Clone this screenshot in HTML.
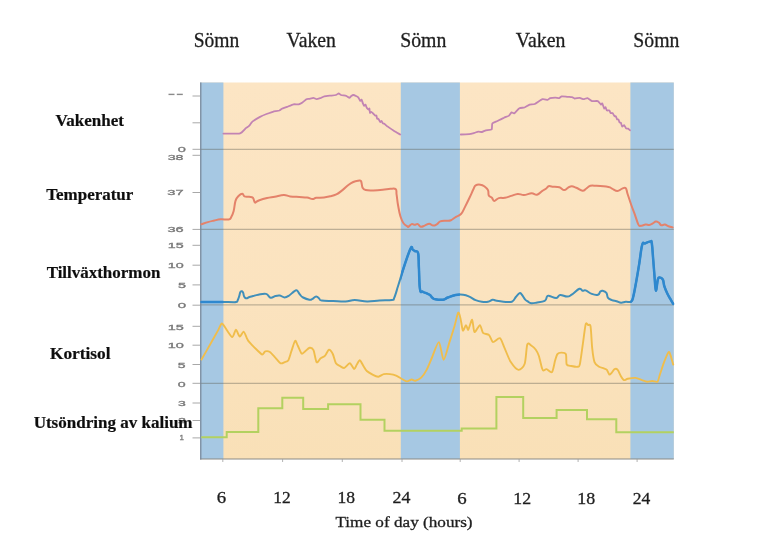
<!DOCTYPE html>
<html><head><meta charset="utf-8"><title>Dygnsrytm</title>
<style>html,body{margin:0;padding:0;background:#fff;}svg{display:block;}</style>
</head><body>
<svg width="777" height="542" viewBox="0 0 777 542">
<defs><linearGradient id="pg" x1="0" y1="0" x2="0" y2="1"><stop offset="0" stop-color="#fce5c4"/><stop offset="0.55" stop-color="#fbe3bf"/><stop offset="1" stop-color="#f9e0b7"/></linearGradient><clipPath id="bands"><rect x="200" y="82" width="23.4" height="378"/><rect x="400.8" y="82" width="59.1" height="378"/><rect x="630.4" y="82" width="44" height="378"/></clipPath><filter id="bl" x="-2%" y="-2%" width="104%" height="104%"><feGaussianBlur stdDeviation="0.35"/></filter></defs>
<rect width="777" height="542" fill="#ffffff"/>
<g filter="url(#bl)">
<rect x="200" y="82.5" width="473.79999999999995" height="376.5" fill="url(#pg)"/>
<rect x="200" y="82.5" width="23.4" height="376.5" fill="#a6c8e3"/>
<rect x="400.8" y="82.5" width="59.1" height="376.5" fill="#a6c8e3"/>
<rect x="630.4" y="82.5" width="43.4" height="376.5" fill="#a6c8e3"/>
<line x1="200" y1="149.3" x2="673.8" y2="149.3" stroke="#5a5a50" stroke-opacity="0.38" stroke-width="1.2"/>
<line x1="200" y1="229.4" x2="673.8" y2="229.4" stroke="#5a5a50" stroke-opacity="0.38" stroke-width="1.2"/>
<line x1="200" y1="304.9" x2="673.8" y2="304.9" stroke="#5a5a50" stroke-opacity="0.38" stroke-width="1.2"/>
<line x1="200" y1="383.3" x2="673.8" y2="383.3" stroke="#5a5a50" stroke-opacity="0.38" stroke-width="1.2"/>
<line x1="200" y1="459" x2="673.8" y2="459" stroke="#8a8a84" stroke-width="1"/>
<line x1="192.5" y1="96.0" x2="200" y2="96.0" stroke="#a8a8a8" stroke-width="1"/>
<line x1="192.5" y1="122.8" x2="200" y2="122.8" stroke="#a8a8a8" stroke-width="1"/>
<line x1="192.5" y1="149.3" x2="200" y2="149.3" stroke="#a8a8a8" stroke-width="1"/>
<line x1="192.5" y1="155.3" x2="200" y2="155.3" stroke="#a8a8a8" stroke-width="1"/>
<line x1="192.5" y1="192.5" x2="200" y2="192.5" stroke="#a8a8a8" stroke-width="1"/>
<line x1="192.5" y1="229.4" x2="200" y2="229.4" stroke="#a8a8a8" stroke-width="1"/>
<line x1="192.5" y1="245.3" x2="200" y2="245.3" stroke="#a8a8a8" stroke-width="1"/>
<line x1="192.5" y1="265.2" x2="200" y2="265.2" stroke="#a8a8a8" stroke-width="1"/>
<line x1="192.5" y1="284.9" x2="200" y2="284.9" stroke="#a8a8a8" stroke-width="1"/>
<line x1="192.5" y1="305.2" x2="200" y2="305.2" stroke="#a8a8a8" stroke-width="1"/>
<line x1="192.5" y1="326.3" x2="200" y2="326.3" stroke="#a8a8a8" stroke-width="1"/>
<line x1="192.5" y1="345.2" x2="200" y2="345.2" stroke="#a8a8a8" stroke-width="1"/>
<line x1="192.5" y1="364.5" x2="200" y2="364.5" stroke="#a8a8a8" stroke-width="1"/>
<line x1="192.5" y1="383.3" x2="200" y2="383.3" stroke="#a8a8a8" stroke-width="1"/>
<line x1="192.5" y1="403.0" x2="200" y2="403.0" stroke="#a8a8a8" stroke-width="1"/>
<line x1="192.5" y1="420.5" x2="200" y2="420.5" stroke="#a8a8a8" stroke-width="1"/>
<line x1="192.5" y1="437.9" x2="200" y2="437.9" stroke="#a8a8a8" stroke-width="1"/>
<line x1="222.8" y1="459" x2="222.8" y2="462" stroke="#a0a0a0" stroke-width="0.8"/>
<line x1="282.6" y1="459" x2="282.6" y2="462" stroke="#a0a0a0" stroke-width="0.8"/>
<line x1="342.3" y1="459" x2="342.3" y2="462" stroke="#a0a0a0" stroke-width="0.8"/>
<line x1="402.0" y1="459" x2="402.0" y2="462" stroke="#a0a0a0" stroke-width="0.8"/>
<line x1="460.2" y1="459" x2="460.2" y2="462" stroke="#a0a0a0" stroke-width="0.8"/>
<line x1="519.1" y1="459" x2="519.1" y2="462" stroke="#a0a0a0" stroke-width="0.8"/>
<line x1="578.1" y1="459" x2="578.1" y2="462" stroke="#a0a0a0" stroke-width="0.8"/>
<line x1="637.1" y1="459" x2="637.1" y2="462" stroke="#a0a0a0" stroke-width="0.8"/>
<line x1="200.8" y1="82.5" x2="200.8" y2="459.5" stroke="#7a8798" stroke-width="1.2"/>
<path d="M223.4,133.6 C224.8,133.6 238.2,133.8 240.1,133.3 C242.0,132.8 245.2,128.7 245.9,128.1 C246.7,127.5 248.6,126.4 249.1,125.9 C249.6,125.4 251.3,122.7 251.7,122.3 C252.1,121.9 252.9,121.2 253.6,120.8 C254.3,120.3 258.9,117.5 260.0,116.9 C261.1,116.3 265.4,114.4 266.5,114.0 C267.6,113.6 271.8,112.1 272.9,111.8 C274.0,111.5 278.6,110.8 279.4,110.5 C280.1,110.2 281.3,109.1 281.9,108.8 C282.5,108.5 286.1,107.3 287.1,106.9 C288.1,106.5 292.5,104.5 293.5,104.3 C294.5,104.1 297.9,104.5 298.7,104.3 C299.4,104.1 301.9,102.8 302.5,102.4 C303.1,102.0 305.9,99.5 306.4,99.2 C306.9,98.9 308.3,99.0 308.9,98.9 C309.5,98.8 312.8,97.9 313.4,97.9 C314.0,97.9 316.0,99.2 316.6,99.2 C317.2,99.2 319.8,98.3 320.4,98.1 C321.0,97.9 323.4,96.5 324.3,96.3 C325.2,96.1 329.7,95.7 330.7,95.6 C331.7,95.5 335.2,95.2 335.9,95.0 C336.6,94.8 338.3,93.4 338.7,93.4 C339.1,93.4 340.4,94.8 341.0,95.0 C341.6,95.2 345.5,95.7 346.2,95.9 C346.9,96.1 349.0,97.9 349.4,97.9 C349.8,97.9 351.0,96.1 351.3,95.9 C351.6,95.7 352.9,95.0 353.3,95.0 C353.7,95.0 356.1,96.1 356.5,96.3 C356.9,96.5 358.1,97.2 358.4,97.6 C358.7,98.0 360.0,100.7 360.3,100.9 C360.6,101.1 361.4,99.4 361.6,99.6 C361.8,99.8 362.7,102.9 362.9,103.4 C363.1,103.9 364.0,105.8 364.2,105.9 C364.4,106.0 365.3,104.4 365.5,104.6 C365.7,104.8 366.5,107.5 366.8,107.9 C367.1,108.3 368.5,109.7 368.7,109.7 C368.9,109.8 369.3,108.2 369.4,108.5 C369.5,108.8 369.8,112.6 370.0,112.9 C370.2,113.2 371.0,111.8 371.3,111.8 C371.6,111.8 372.9,113.2 373.2,113.5 C373.5,113.8 374.8,115.3 375.1,115.5 C375.4,115.7 376.2,115.3 376.4,115.6 C376.6,115.9 376.9,118.5 377.1,118.8 C377.3,119.1 378.1,118.5 378.4,118.8 C378.7,119.1 380.0,121.8 380.3,122.0 C380.6,122.2 381.4,120.9 381.6,121.0 C381.8,121.1 382.6,123.0 382.9,123.3 C383.2,123.6 384.4,123.8 384.8,124.1 C385.2,124.4 386.6,125.9 387.4,126.4 C388.1,127.0 392.7,130.0 393.8,130.7 C394.9,131.4 399.7,134.2 400.2,134.5" fill="none" stroke-linejoin="round" stroke-linecap="round" stroke="#c283b3" stroke-width="1.8"/>
<path d="M460.8,134.5 C461.5,134.5 468.1,134.3 469.2,134.2 C470.3,134.1 473.6,133.1 474.3,132.9 C475.1,132.7 477.6,131.7 478.2,131.6 C478.8,131.5 481.4,132.1 482.0,132.0 C482.6,131.9 485.1,130.5 485.9,130.3 C486.7,130.1 491.2,130.0 491.7,129.4 C492.2,128.8 491.8,124.1 492.3,123.4 C492.8,122.7 496.5,121.5 497.5,121.0 C498.5,120.5 502.9,118.2 503.9,117.8 C504.9,117.3 508.5,116.1 509.1,115.6 C509.7,115.1 511.2,112.5 511.6,112.3 C512.0,112.1 513.6,113.6 514.2,113.3 C514.9,113.0 518.5,108.7 519.4,108.2 C520.3,107.7 523.6,107.8 524.5,107.5 C525.4,107.2 528.7,104.9 529.6,104.6 C530.5,104.3 533.7,104.5 534.8,104.0 C535.9,103.5 541.4,99.5 542.5,99.2 C543.6,98.9 547.1,99.9 547.7,99.8 C548.3,99.7 549.6,98.3 550.2,98.1 C550.8,97.9 554.5,97.6 555.3,97.6 C556.0,97.6 558.7,98.2 559.2,98.1 C559.7,98.0 561.1,96.4 561.7,96.3 C562.3,96.2 566.0,96.7 566.9,96.8 C567.8,96.9 571.4,97.1 572.0,97.2 C572.6,97.3 574.0,98.4 574.6,98.5 C575.2,98.6 579.0,97.8 579.7,97.9 C580.5,98.0 583.0,99.2 583.6,99.2 C584.2,99.2 586.8,97.9 587.5,98.1 C588.2,98.3 591.1,100.8 592.0,101.1 C592.9,101.3 597.0,100.8 597.8,101.1 C598.5,101.4 600.6,104.4 601.0,104.6 C601.4,104.8 602.0,103.1 602.3,103.4 C602.6,103.7 603.9,108.2 604.2,108.5 C604.5,108.8 605.3,107.0 605.5,107.2 C605.7,107.4 606.5,110.1 606.8,110.4 C607.1,110.7 609.1,110.3 609.4,110.5 C609.7,110.7 610.3,112.8 610.6,113.0 C610.9,113.2 612.3,112.8 612.6,113.1 C612.9,113.4 614.2,115.9 614.5,116.2 C614.8,116.5 615.6,115.9 615.8,116.2 C616.0,116.5 616.9,119.1 617.1,119.4 C617.3,119.7 618.2,119.1 618.4,119.4 C618.6,119.7 619.4,122.3 619.6,122.6 C619.8,122.9 620.7,122.4 620.9,122.7 C621.1,123.0 621.9,126.3 622.2,126.5 C622.5,126.7 623.9,125.0 624.2,125.2 C624.5,125.4 625.8,128.1 626.1,128.4 C626.4,128.7 627.7,128.4 628.0,128.6 C628.3,128.8 629.8,130.2 630.0,130.3" fill="none" stroke-linejoin="round" stroke-linecap="round" stroke="#c283b3" stroke-width="1.8"/>
<path d="M201.4,224.3 C202.7,223.9 205.3,222.9 207.9,222.1 C210.5,221.3 211.7,221.1 214.3,220.5 C216.9,219.9 217.9,219.5 220.7,219.3 C223.5,219.1 226.4,219.8 228.5,219.5 C230.6,219.2 230.0,219.3 231.0,217.6 C232.0,215.9 232.7,214.5 233.6,211.2 C234.5,207.9 234.5,204.0 235.5,200.9 C236.5,197.8 237.4,197.1 238.8,195.7 C240.2,194.3 241.3,193.7 242.4,193.8 C243.5,193.9 243.2,195.8 244.5,196.4 C245.8,197.0 247.4,196.5 249.1,196.8 C250.8,197.1 251.8,196.6 252.9,197.7 C254.0,198.8 254.0,201.6 254.8,202.4 C255.6,203.2 255.9,201.9 256.8,201.5 C257.7,201.1 257.3,200.9 259.4,200.2 C261.5,199.5 264.0,198.8 267.1,198.1 C270.2,197.4 271.5,197.4 274.8,196.8 C278.1,196.2 280.7,195.2 283.8,195.1 C286.9,195.0 287.1,196.0 290.2,196.4 C293.3,196.8 295.9,196.8 299.3,197.0 C302.7,197.2 304.4,197.1 307.0,197.5 C309.6,197.9 310.5,198.9 312.4,199.0 C314.3,199.1 314.0,198.1 316.3,197.8 C318.6,197.5 321.2,197.8 324.0,197.5 C326.8,197.2 327.7,196.9 330.2,196.3 C332.7,195.7 333.8,195.6 336.3,194.4 C338.8,193.2 340.0,192.0 342.5,190.1 C345.0,188.2 346.5,186.3 348.7,184.7 C350.9,183.1 351.4,182.8 353.3,182.0 C355.2,181.2 356.5,181.0 358.0,180.8 C359.5,180.6 360.1,179.7 361.0,181.1 C361.9,182.5 361.7,186.0 362.6,187.8 C363.5,189.6 363.5,189.6 365.7,190.1 C367.9,190.6 370.0,190.5 373.4,190.4 C376.8,190.3 379.3,190.1 382.7,189.8 C386.1,189.5 387.8,188.9 390.4,188.8 C393.0,188.7 394.6,188.1 395.8,189.3 C397.0,190.5 396.1,191.5 396.6,194.7 C397.1,197.9 397.3,201.2 398.1,205.5 C398.9,209.8 399.3,212.7 400.4,216.3 C401.5,219.9 402.1,221.3 403.5,223.3 C404.9,225.3 406.4,225.7 407.4,226.4 C408.4,227.1 407.7,227.3 408.5,226.8 C409.3,226.3 410.4,224.5 411.6,224.1 C412.8,223.7 413.5,224.8 414.7,224.8 C415.9,224.8 416.6,223.7 417.8,224.1 C419.0,224.5 419.4,226.5 420.8,226.8 C422.2,227.1 423.0,226.2 424.7,225.6 C426.4,225.0 427.6,223.7 429.3,223.7 C431.0,223.7 431.6,225.5 433.2,225.6 C434.8,225.7 435.7,224.9 437.1,224.1 C438.5,223.3 438.4,222.1 440.2,221.4 C442.0,220.7 444.1,220.9 446.3,220.7 C448.5,220.5 449.1,220.9 451.0,220.2 C452.9,219.5 453.6,218.3 455.6,217.1 C457.6,215.9 459.1,216.0 461.0,214.0 C462.9,212.0 463.2,210.3 464.9,207.1 C466.6,203.9 467.8,201.4 469.5,197.8 C471.2,194.2 472.2,191.8 473.4,189.3 C474.6,186.8 474.3,186.3 475.7,185.4 C477.1,184.5 478.6,184.5 480.3,184.7 C482.0,184.9 482.7,185.1 484.2,186.2 C485.7,187.3 487.1,188.2 488.0,190.1 C488.9,192.0 488.0,194.0 488.8,195.5 C489.6,197.0 490.8,196.7 491.9,197.8 C493.0,198.9 492.8,200.8 494.2,200.9 C495.6,201.0 496.6,198.7 498.8,198.1 C501.0,197.5 502.5,198.2 505.0,197.8 C507.5,197.4 508.7,196.7 511.2,195.9 C513.7,195.1 515.2,194.1 517.7,193.9 C520.2,193.7 521.1,195.1 523.9,195.0 C526.7,194.9 529.0,193.3 531.6,193.2 C534.2,193.1 534.8,195.2 537.0,194.7 C539.2,194.2 540.5,192.0 542.4,190.8 C544.3,189.6 545.1,189.4 546.3,188.5 C547.5,187.6 547.4,186.6 548.6,186.2 C549.8,185.8 550.3,186.5 552.5,186.7 C554.7,186.9 557.1,186.6 559.4,187.3 C561.7,188.0 562.4,190.0 564.1,190.1 C565.8,190.2 566.4,188.6 567.9,187.8 C569.4,187.0 570.1,186.2 571.8,186.2 C573.5,186.2 574.2,186.9 576.4,187.8 C578.6,188.7 580.6,190.7 582.6,190.8 C584.6,190.9 584.9,189.5 586.4,188.5 C587.9,187.5 588.3,186.3 590.3,185.8 C592.3,185.3 592.9,185.6 596.5,185.8 C600.1,186.0 605.3,186.4 608.4,187.0 C611.5,187.6 610.2,187.8 612.0,188.6 C613.8,189.4 615.4,191.0 617.4,191.0 C619.4,191.0 620.5,189.2 622.2,188.6 C623.9,188.0 624.7,187.1 625.8,188.2 C626.9,189.3 626.5,190.7 627.6,194.0 C628.7,197.3 629.8,200.7 631.2,204.8 C632.6,208.9 633.4,210.4 634.8,214.4 C636.2,218.4 637.2,222.3 638.4,224.6 C639.6,226.9 639.4,225.8 640.8,225.8 C642.2,225.8 643.9,224.8 645.6,224.6 C647.3,224.4 647.8,225.2 649.2,225.0 C650.6,224.8 651.5,224.1 652.8,223.4 C654.1,222.7 654.6,221.8 655.8,221.6 C657.0,221.4 657.7,221.9 658.8,222.6 C659.9,223.3 660.0,224.8 661.2,225.2 C662.4,225.6 663.4,224.4 664.8,224.6 C666.2,224.8 666.8,225.6 668.4,226.2 C670.0,226.8 671.8,227.2 672.6,227.4" fill="none" stroke-linejoin="round" stroke-linecap="round" stroke="#e4826a" stroke-width="2.0"/>
<path d="M201.5,302.1 C206.8,302.1 221.1,302.1 228.0,302.1 C234.9,302.1 234.2,302.5 236.1,302.1 C238.0,301.7 237.1,301.4 237.7,300.2 C238.3,299.0 238.7,297.8 239.2,296.2 C239.7,294.6 239.8,293.1 240.4,292.1 C241.0,291.1 241.4,291.1 242.0,291.3 C242.6,291.5 242.8,291.9 243.2,292.9 C243.6,293.9 243.6,295.2 244.0,296.2 C244.4,297.2 244.5,297.4 245.1,297.8 C245.7,298.2 246.2,298.4 247.1,298.2 C248.0,298.0 248.3,297.4 249.5,297.0 C250.7,296.6 251.4,296.5 253.2,296.0 C255.0,295.5 255.7,295.1 258.3,294.7 C260.9,294.3 263.5,293.3 266.0,293.9 C268.5,294.5 268.8,297.4 270.7,297.8 C272.6,298.2 273.5,296.5 275.3,296.0 C277.1,295.5 278.0,295.2 279.9,295.5 C281.8,295.8 282.7,297.5 284.6,297.5 C286.5,297.5 287.4,296.7 289.2,295.5 C291.0,294.3 292.3,292.6 293.8,291.6 C295.3,290.6 295.7,289.8 296.9,290.4 C298.1,291.0 298.8,293.3 300.0,294.7 C301.2,296.1 301.2,296.5 303.1,297.5 C305.0,298.5 307.5,299.4 309.3,299.7 C311.1,300.0 310.6,299.9 312.0,299.2 C313.4,298.5 314.7,296.5 316.2,296.4 C317.7,296.3 318.2,297.9 319.3,298.7 C320.4,299.5 318.8,300.0 321.6,300.5 C324.4,301.0 328.4,300.8 333.2,301.0 C338.0,301.2 341.2,301.7 345.5,301.5 C349.8,301.3 350.5,299.9 354.8,299.9 C359.1,299.9 362.2,301.4 367.1,301.5 C372.0,301.6 374.5,300.8 379.5,300.5 C384.5,300.2 389.0,300.4 391.9,299.9 C394.8,299.4 393.0,300.6 394.2,297.9 C395.4,295.2 396.3,291.7 398.0,286.3 C399.7,280.9 400.8,276.8 402.7,270.9 C404.6,265.0 405.6,261.7 407.3,257.0 C409.0,252.3 410.1,248.9 411.2,247.4 C412.3,245.9 411.9,248.9 412.7,249.6 C413.5,250.3 413.9,250.4 415.0,251.1 C416.1,251.8 417.3,249.8 418.1,253.1 C418.9,256.4 418.5,260.5 418.9,267.8 C419.3,275.1 419.2,284.6 420.0,289.4 C420.8,294.2 421.5,290.9 422.7,291.7 C423.9,292.5 424.7,292.5 426.2,293.2 C427.7,293.9 428.8,294.1 430.0,295.0 C431.2,295.9 431.3,296.9 432.4,297.8 C433.5,298.7 433.2,298.9 435.4,299.3 C437.6,299.7 440.7,300.1 443.2,299.7 C445.7,299.3 445.3,298.4 447.8,297.5 C450.3,296.6 452.4,295.6 455.5,295.0 C458.6,294.4 460.4,294.4 463.2,294.7 C466.0,295.0 466.9,295.5 469.4,296.6 C471.9,297.7 473.1,299.1 475.6,300.1 C478.1,301.1 479.3,301.4 481.8,301.7 C484.3,302.0 485.8,302.1 488.0,301.7 C490.2,301.3 491.1,299.9 492.6,299.7 C494.1,299.5 493.5,300.2 495.7,300.6 C497.9,301.0 500.2,301.5 503.4,301.7 C506.6,301.9 509.4,302.6 511.9,301.7 C514.4,300.8 514.3,298.7 515.8,297.0 C517.3,295.3 518.4,293.7 519.6,293.2 C520.8,292.7 520.8,293.5 521.9,294.7 C523.0,295.9 523.8,297.9 525.0,299.3 C526.2,300.7 526.9,300.9 528.1,301.7 C529.3,302.5 529.6,303.0 531.2,303.2 C532.8,303.4 533.5,303.2 536.2,302.7 C538.9,302.2 542.5,302.1 544.7,300.9 C546.9,299.7 546.1,297.6 547.0,296.6 C547.9,295.6 547.4,295.6 549.3,295.9 C551.2,296.2 554.1,298.3 556.3,298.1 C558.5,297.9 557.9,295.3 560.1,295.0 C562.3,294.7 564.8,296.7 567.1,296.6 C569.4,296.5 569.2,296.3 571.7,294.7 C574.2,293.1 577.2,289.6 579.4,288.8 C581.6,288.0 581.3,290.5 582.5,290.8 C583.7,291.1 583.7,289.8 585.6,290.4 C587.5,291.0 589.3,293.0 591.8,293.9 C594.3,294.8 596.3,295.2 598.0,294.7 C599.7,294.2 599.4,292.4 600.3,291.6 C601.2,290.8 601.4,290.5 602.6,290.8 C603.8,291.1 605.3,291.5 606.4,292.9 C607.5,294.3 606.9,296.4 608.0,297.8 C609.1,299.2 610.2,299.4 611.9,300.1 C613.6,300.8 614.7,300.7 616.5,301.2 C618.3,301.7 619.2,302.6 621.1,302.7 C623.0,302.8 623.8,302.0 625.8,301.8 C627.8,301.6 629.6,302.7 631.1,301.6 C632.6,300.5 632.3,300.5 633.3,296.5 C634.3,292.5 635.0,288.2 636.2,281.7 C637.4,275.2 638.0,271.4 639.2,264.0 C640.4,256.6 641.0,248.9 642.2,244.8 C643.4,240.7 643.5,244.0 645.1,243.3 C646.7,242.6 649.0,241.5 650.3,241.5 C651.6,241.5 651.2,239.7 651.8,243.3 C652.4,246.9 652.6,252.4 653.2,259.5 C653.8,266.6 654.2,272.5 654.7,278.7 C655.2,284.9 655.3,290.3 655.9,290.6 C656.5,290.9 657.1,282.8 657.7,280.2 C658.3,277.6 658.1,277.7 659.1,277.6 C660.1,277.5 661.8,277.8 662.8,279.5 C663.8,281.2 663.4,283.3 664.3,286.1 C665.2,288.9 666.1,291.0 667.3,293.5 C668.5,296.0 669.0,296.6 670.2,298.7 C671.4,300.8 672.6,302.9 673.2,303.9" fill="none" stroke-linejoin="round" stroke-linecap="round" stroke="#3f8fba" stroke-width="2.0"/>
<path d="M201.5,302.1 C206.8,302.1 221.1,302.1 228.0,302.1 C234.9,302.1 234.2,302.5 236.1,302.1 C238.0,301.7 237.1,301.4 237.7,300.2 C238.3,299.0 238.7,297.8 239.2,296.2 C239.7,294.6 239.8,293.1 240.4,292.1 C241.0,291.1 241.4,291.1 242.0,291.3 C242.6,291.5 242.8,291.9 243.2,292.9 C243.6,293.9 243.6,295.2 244.0,296.2 C244.4,297.2 244.5,297.4 245.1,297.8 C245.7,298.2 246.2,298.4 247.1,298.2 C248.0,298.0 248.3,297.4 249.5,297.0 C250.7,296.6 251.4,296.5 253.2,296.0 C255.0,295.5 255.7,295.1 258.3,294.7 C260.9,294.3 263.5,293.3 266.0,293.9 C268.5,294.5 268.8,297.4 270.7,297.8 C272.6,298.2 273.5,296.5 275.3,296.0 C277.1,295.5 278.0,295.2 279.9,295.5 C281.8,295.8 282.7,297.5 284.6,297.5 C286.5,297.5 287.4,296.7 289.2,295.5 C291.0,294.3 292.3,292.6 293.8,291.6 C295.3,290.6 295.7,289.8 296.9,290.4 C298.1,291.0 298.8,293.3 300.0,294.7 C301.2,296.1 301.2,296.5 303.1,297.5 C305.0,298.5 307.5,299.4 309.3,299.7 C311.1,300.0 310.6,299.9 312.0,299.2 C313.4,298.5 314.7,296.5 316.2,296.4 C317.7,296.3 318.2,297.9 319.3,298.7 C320.4,299.5 318.8,300.0 321.6,300.5 C324.4,301.0 328.4,300.8 333.2,301.0 C338.0,301.2 341.2,301.7 345.5,301.5 C349.8,301.3 350.5,299.9 354.8,299.9 C359.1,299.9 362.2,301.4 367.1,301.5 C372.0,301.6 374.5,300.8 379.5,300.5 C384.5,300.2 389.0,300.4 391.9,299.9 C394.8,299.4 393.0,300.6 394.2,297.9 C395.4,295.2 396.3,291.7 398.0,286.3 C399.7,280.9 400.8,276.8 402.7,270.9 C404.6,265.0 405.6,261.7 407.3,257.0 C409.0,252.3 410.1,248.9 411.2,247.4 C412.3,245.9 411.9,248.9 412.7,249.6 C413.5,250.3 413.9,250.4 415.0,251.1 C416.1,251.8 417.3,249.8 418.1,253.1 C418.9,256.4 418.5,260.5 418.9,267.8 C419.3,275.1 419.2,284.6 420.0,289.4 C420.8,294.2 421.5,290.9 422.7,291.7 C423.9,292.5 424.7,292.5 426.2,293.2 C427.7,293.9 428.8,294.1 430.0,295.0 C431.2,295.9 431.3,296.9 432.4,297.8 C433.5,298.7 433.2,298.9 435.4,299.3 C437.6,299.7 440.7,300.1 443.2,299.7 C445.7,299.3 445.3,298.4 447.8,297.5 C450.3,296.6 452.4,295.6 455.5,295.0 C458.6,294.4 460.4,294.4 463.2,294.7 C466.0,295.0 466.9,295.5 469.4,296.6 C471.9,297.7 473.1,299.1 475.6,300.1 C478.1,301.1 479.3,301.4 481.8,301.7 C484.3,302.0 485.8,302.1 488.0,301.7 C490.2,301.3 491.1,299.9 492.6,299.7 C494.1,299.5 493.5,300.2 495.7,300.6 C497.9,301.0 500.2,301.5 503.4,301.7 C506.6,301.9 509.4,302.6 511.9,301.7 C514.4,300.8 514.3,298.7 515.8,297.0 C517.3,295.3 518.4,293.7 519.6,293.2 C520.8,292.7 520.8,293.5 521.9,294.7 C523.0,295.9 523.8,297.9 525.0,299.3 C526.2,300.7 526.9,300.9 528.1,301.7 C529.3,302.5 529.6,303.0 531.2,303.2 C532.8,303.4 533.5,303.2 536.2,302.7 C538.9,302.2 542.5,302.1 544.7,300.9 C546.9,299.7 546.1,297.6 547.0,296.6 C547.9,295.6 547.4,295.6 549.3,295.9 C551.2,296.2 554.1,298.3 556.3,298.1 C558.5,297.9 557.9,295.3 560.1,295.0 C562.3,294.7 564.8,296.7 567.1,296.6 C569.4,296.5 569.2,296.3 571.7,294.7 C574.2,293.1 577.2,289.6 579.4,288.8 C581.6,288.0 581.3,290.5 582.5,290.8 C583.7,291.1 583.7,289.8 585.6,290.4 C587.5,291.0 589.3,293.0 591.8,293.9 C594.3,294.8 596.3,295.2 598.0,294.7 C599.7,294.2 599.4,292.4 600.3,291.6 C601.2,290.8 601.4,290.5 602.6,290.8 C603.8,291.1 605.3,291.5 606.4,292.9 C607.5,294.3 606.9,296.4 608.0,297.8 C609.1,299.2 610.2,299.4 611.9,300.1 C613.6,300.8 614.7,300.7 616.5,301.2 C618.3,301.7 619.2,302.6 621.1,302.7 C623.0,302.8 623.8,302.0 625.8,301.8 C627.8,301.6 629.6,302.7 631.1,301.6 C632.6,300.5 632.3,300.5 633.3,296.5 C634.3,292.5 635.0,288.2 636.2,281.7 C637.4,275.2 638.0,271.4 639.2,264.0 C640.4,256.6 641.0,248.9 642.2,244.8 C643.4,240.7 643.5,244.0 645.1,243.3 C646.7,242.6 649.0,241.5 650.3,241.5 C651.6,241.5 651.2,239.7 651.8,243.3 C652.4,246.9 652.6,252.4 653.2,259.5 C653.8,266.6 654.2,272.5 654.7,278.7 C655.2,284.9 655.3,290.3 655.9,290.6 C656.5,290.9 657.1,282.8 657.7,280.2 C658.3,277.6 658.1,277.7 659.1,277.6 C660.1,277.5 661.8,277.8 662.8,279.5 C663.8,281.2 663.4,283.3 664.3,286.1 C665.2,288.9 666.1,291.0 667.3,293.5 C668.5,296.0 669.0,296.6 670.2,298.7 C671.4,300.8 672.6,302.9 673.2,303.9" fill="none" stroke-linejoin="round" stroke-linecap="round" stroke="#2f88cf" stroke-width="2.5" clip-path="url(#bands)"/>
<path d="M201.5,359.5 C202.7,357.4 208.2,347.9 210.4,344.0 C212.6,340.1 216.7,332.8 218.2,330.1 C219.7,327.4 220.8,324.1 221.6,323.6 C222.4,323.1 222.9,324.4 224.3,326.2 C225.7,328.0 230.6,336.5 232.1,337.0 C233.6,337.5 234.9,329.9 235.9,329.8 C236.9,329.7 238.8,336.4 239.8,336.6 C240.8,336.8 242.7,331.4 243.6,331.6 C244.5,331.8 246.1,336.6 246.7,337.8 C247.3,339.0 247.6,339.9 248.3,340.9 C249.0,341.9 251.0,344.0 252.1,345.2 C253.2,346.4 255.5,348.6 256.8,349.8 C258.1,351.0 261.1,354.3 262.2,354.5 C263.3,354.7 264.3,351.7 265.3,351.4 C266.3,351.1 268.6,351.2 269.9,352.0 C271.2,352.8 273.9,356.1 275.3,357.6 C276.7,359.1 279.5,362.7 280.7,363.3 C281.9,363.9 283.6,362.6 284.6,362.2 C285.6,361.8 287.5,361.7 288.4,360.2 C289.3,358.7 290.6,353.5 291.5,350.9 C292.4,348.3 294.3,341.6 295.1,340.9 C295.9,340.2 296.8,343.8 297.7,345.5 C298.6,347.2 300.7,352.8 301.6,353.6 C302.5,354.4 303.6,352.5 304.7,351.7 C305.8,350.9 308.4,348.0 309.6,347.8 C310.8,347.6 312.6,348.3 313.5,350.2 C314.4,352.1 315.7,361.1 316.6,362.2 C317.5,363.3 319.3,359.5 320.4,358.6 C321.5,357.7 324.0,356.8 325.1,355.6 C326.2,354.4 327.9,350.0 328.9,349.8 C329.9,349.6 331.9,352.2 332.8,354.0 C333.7,355.8 334.9,361.6 335.9,363.3 C336.9,365.0 339.4,365.8 340.5,366.4 C341.6,367.0 343.2,368.3 344.4,367.9 C345.6,367.5 348.5,363.2 349.8,363.3 C351.1,363.4 353.2,368.8 354.1,369.0 C355.0,369.2 355.9,366.0 356.7,364.8 C357.5,363.6 358.9,360.0 359.8,360.2 C360.7,360.4 362.8,365.0 363.7,366.4 C364.6,367.8 365.6,369.9 366.8,371.0 C368.0,372.1 371.5,374.1 373.0,374.9 C374.5,375.7 377.0,376.8 378.4,376.7 C379.8,376.6 382.3,374.4 383.8,374.1 C385.3,373.8 388.3,373.9 389.9,374.1 C391.5,374.3 394.6,375.0 396.1,375.6 C397.6,376.2 400.1,377.9 401.5,378.7 C402.9,379.5 405.6,381.3 406.9,381.4 C408.2,381.5 410.5,379.6 411.6,379.5 C412.7,379.4 414.1,381.0 415.4,380.7 C416.7,380.4 419.7,379.0 421.2,377.6 C422.7,376.2 425.2,372.6 426.6,369.9 C428.0,367.2 430.4,361.2 432.0,357.5 C433.6,353.8 437.4,341.8 438.9,342.1 C440.4,342.4 442.3,359.6 443.6,359.8 C444.9,360.0 447.6,348.0 449.0,343.6 C450.4,339.2 453.2,330.7 454.4,326.6 C455.6,322.5 457.4,313.7 458.2,312.7 C459.0,311.7 460.0,316.5 460.6,318.9 C461.2,321.3 462.2,329.7 462.9,330.5 C463.6,331.3 465.3,325.2 466.0,325.1 C466.7,325.0 467.5,330.4 468.3,329.7 C469.1,329.0 471.3,319.4 472.1,319.7 C472.9,320.0 473.5,331.3 474.5,332.0 C475.5,332.7 478.8,325.0 479.9,325.1 C481.0,325.2 481.8,331.5 483.0,332.8 C484.2,334.1 487.8,333.9 489.1,335.1 C490.4,336.3 491.6,341.7 493.0,342.1 C494.4,342.5 498.4,337.4 499.9,338.2 C501.4,339.0 503.1,345.0 504.6,348.2 C506.1,351.4 508.9,359.2 510.8,362.1 C512.7,365.0 516.6,369.7 518.5,369.9 C520.4,370.1 523.5,367.1 524.7,363.7 C525.9,360.3 526.4,346.8 527.3,344.4 C528.2,342.0 530.1,344.8 531.2,345.5 C532.3,346.2 534.8,348.4 535.8,349.8 C536.8,351.2 538.1,353.5 538.9,356.0 C539.7,358.5 541.4,366.4 542.0,368.3 C542.6,370.2 542.9,370.5 543.5,370.6 C544.1,370.7 545.5,368.9 546.6,369.1 C547.7,369.3 550.9,373.3 552.0,372.2 C553.1,371.1 554.4,363.0 555.1,360.6 C555.8,358.2 556.6,355.2 557.4,354.1 C558.2,353.0 560.2,352.6 561.3,352.6 C562.4,352.6 565.2,352.5 565.9,354.1 C566.6,355.7 566.0,362.9 566.7,364.5 C567.4,366.1 569.9,365.7 571.3,366.0 C572.7,366.3 576.4,367.0 577.5,366.8 C578.6,366.6 579.1,367.6 579.8,364.5 C580.5,361.4 582.1,349.0 582.9,343.6 C583.7,338.2 585.0,326.8 585.7,324.3 C586.4,321.8 587.6,324.8 588.3,325.1 C589.0,325.4 590.1,323.5 590.6,326.6 C591.1,329.7 591.7,343.5 592.2,348.2 C592.7,352.9 593.6,359.6 594.5,362.1 C595.4,364.6 597.9,366.0 599.1,366.8 C600.3,367.6 602.8,367.9 603.8,368.3 C604.8,368.7 606.2,369.1 606.9,369.9 C607.6,370.7 608.6,374.1 609.2,374.5 C609.8,374.9 610.8,373.7 611.5,373.0 C612.2,372.3 613.8,369.5 614.6,369.1 C615.4,368.7 616.9,369.0 617.7,369.9 C618.5,370.8 620.0,374.6 620.8,376.0 C621.6,377.4 623.0,379.7 623.9,380.1 C624.8,380.5 626.2,379.1 627.7,378.8 C629.2,378.5 633.6,377.7 635.5,377.9 C637.4,378.1 640.5,379.6 642.0,380.1 C643.5,380.6 645.7,381.6 647.1,381.7 C648.5,381.8 650.9,381.0 652.3,381.0 C653.7,381.0 656.5,382.6 657.5,381.7 C658.5,380.8 659.1,376.7 660.0,374.2 C660.9,371.7 662.8,365.5 663.9,362.6 C665.0,359.7 667.5,353.3 668.4,352.3 C669.3,351.3 669.8,353.3 670.4,354.9 C671.0,356.5 672.8,363.3 673.2,364.6" fill="none" stroke-linejoin="round" stroke-linecap="round" stroke="#f0bd4c" stroke-width="1.9"/>
<path d="M201.2,437.2 L226.7,437.2 L226.7,432.1 L258.3,432.1 L258.3,408.2 L282.3,408.2 L282.3,397.8 L303.2,397.8 L303.2,408.9 L328.1,408.9 L328.1,404.3 L360.5,404.3 L360.5,419.7 L384.5,419.7 L384.5,430.8 L461.7,430.8 L461.7,428.6 L496.4,428.6 L496.4,396.9 L523.2,396.9 L523.2,417.9 L556.6,417.9 L556.6,410.1 L587.0,410.1 L587.0,419.2 L616.3,419.2 L616.3,432.3 L673.8,432.3" fill="none" stroke="#b3d160" stroke-width="2.0" stroke-linejoin="miter"/>
<rect x="168.5" y="93.7" width="6" height="1.4" fill="#8a8a8a"/>
<rect x="176.8" y="93.7" width="6" height="1.4" fill="#8a8a8a"/>
<text transform="translate(177.82,151.65) scale(1.8561,1)" font-family="Liberation Sans, sans-serif" font-weight="normal" font-size="7.86" fill="#767676" stroke="#7a7a7a" stroke-width="0.3">0</text>
<text transform="translate(167.63,159.75) scale(1.8164,1)" font-family="Liberation Sans, sans-serif" font-weight="normal" font-size="7.86" fill="#767676" stroke="#7a7a7a" stroke-width="0.3">38</text>
<text transform="translate(167.31,194.85) scale(1.8717,1)" font-family="Liberation Sans, sans-serif" font-weight="normal" font-size="7.86" fill="#767676" stroke="#7a7a7a" stroke-width="0.3">37</text>
<text transform="translate(167.52,231.75) scale(1.8535,1)" font-family="Liberation Sans, sans-serif" font-weight="normal" font-size="7.86" fill="#767676" stroke="#7a7a7a" stroke-width="0.3">36</text>
<text transform="translate(167.85,248.05) scale(1.7994,1)" font-family="Liberation Sans, sans-serif" font-weight="normal" font-size="7.97" fill="#767676" stroke="#7a7a7a" stroke-width="0.3">15</text>
<text transform="translate(167.85,267.65) scale(1.8255,1)" font-family="Liberation Sans, sans-serif" font-weight="normal" font-size="7.86" fill="#767676" stroke="#7a7a7a" stroke-width="0.3">10</text>
<text transform="translate(177.92,287.75) scale(1.8151,1)" font-family="Liberation Sans, sans-serif" font-weight="normal" font-size="7.97" fill="#767676" stroke="#7a7a7a" stroke-width="0.3">5</text>
<text transform="translate(177.7,307.55) scale(1.9091,1)" font-family="Liberation Sans, sans-serif" font-weight="normal" font-size="7.86" fill="#767676" stroke="#7a7a7a" stroke-width="0.3">0</text>
<text transform="translate(167.74,329.85) scale(1.8248,1)" font-family="Liberation Sans, sans-serif" font-weight="normal" font-size="7.97" fill="#767676" stroke="#7a7a7a" stroke-width="0.3">15</text>
<text transform="translate(167.74,347.95) scale(1.8512,1)" font-family="Liberation Sans, sans-serif" font-weight="normal" font-size="7.86" fill="#767676" stroke="#7a7a7a" stroke-width="0.3">10</text>
<text transform="translate(177.74,367.75) scale(1.7617,1)" font-family="Liberation Sans, sans-serif" font-weight="normal" font-size="7.97" fill="#767676" stroke="#7a7a7a" stroke-width="0.3">5</text>
<text transform="translate(177.73,386.75) scale(1.803,1)" font-family="Liberation Sans, sans-serif" font-weight="normal" font-size="7.86" fill="#767676" stroke="#7a7a7a" stroke-width="0.3">0</text>
<text transform="translate(178.04,405.85) scale(1.7872,1)" font-family="Liberation Sans, sans-serif" font-weight="normal" font-size="7.86" fill="#767676" stroke="#7a7a7a" stroke-width="0.3">3</text>
<text transform="translate(177.88,422.75) scale(1.8261,1)" font-family="Liberation Sans, sans-serif" font-weight="normal" font-size="7.86" fill="#767676" stroke="#7a7a7a" stroke-width="0.3">2</text>
<text transform="translate(179.43,440.35) scale(1.0,1)" font-family="Liberation Sans, sans-serif" font-weight="normal" font-size="7.97" fill="#767676" stroke="#7a7a7a" stroke-width="0.3">1</text>
<text x="193.63" y="46.6" stroke="#1e1e1e" stroke-width="0.3" font-family="Liberation Serif, serif" font-weight="normal" font-size="20.6" textLength="45.64" lengthAdjust="spacingAndGlyphs" fill="#1e1e1e">Sömn</text>
<text x="286.6" y="46.6" stroke="#1e1e1e" stroke-width="0.3" font-family="Liberation Serif, serif" font-weight="normal" font-size="20.6" textLength="49.37" lengthAdjust="spacingAndGlyphs" fill="#1e1e1e">Vaken</text>
<text x="400.22" y="46.6" stroke="#1e1e1e" stroke-width="0.3" font-family="Liberation Serif, serif" font-weight="normal" font-size="20.6" textLength="46.16" lengthAdjust="spacingAndGlyphs" fill="#1e1e1e">Sömn</text>
<text x="515.8" y="46.6" stroke="#1e1e1e" stroke-width="0.3" font-family="Liberation Serif, serif" font-weight="normal" font-size="20.6" textLength="49.58" lengthAdjust="spacingAndGlyphs" fill="#1e1e1e">Vaken</text>
<text x="633.32" y="46.6" stroke="#1e1e1e" stroke-width="0.3" font-family="Liberation Serif, serif" font-weight="normal" font-size="20.6" textLength="46.06" lengthAdjust="spacingAndGlyphs" fill="#1e1e1e">Sömn</text>
<text x="55.53" y="125.8" stroke="#111" stroke-width="0.2" font-family="Liberation Serif, serif" font-weight="bold" font-size="16" textLength="68.36" lengthAdjust="spacingAndGlyphs" fill="#111">Vakenhet</text>
<text x="46.36" y="200.0" stroke="#111" stroke-width="0.2" font-family="Liberation Serif, serif" font-weight="bold" font-size="16" textLength="86.86" lengthAdjust="spacingAndGlyphs" fill="#111">Temperatur</text>
<text x="46.66" y="278.4" stroke="#111" stroke-width="0.2" font-family="Liberation Serif, serif" font-weight="bold" font-size="16" textLength="113.69" lengthAdjust="spacingAndGlyphs" fill="#111">Tillväxthormon</text>
<text x="49.95" y="358.5" stroke="#111" stroke-width="0.2" font-family="Liberation Serif, serif" font-weight="bold" font-size="16" textLength="60.58" lengthAdjust="spacingAndGlyphs" fill="#111">Kortisol</text>
<text x="33.66" y="427.8" stroke="#111" stroke-width="0.2" font-family="Liberation Serif, serif" font-weight="bold" font-size="16" textLength="158.9" lengthAdjust="spacingAndGlyphs" fill="#111">Utsöndring av kalium</text>
<text x="216.75" y="503.0" stroke="#1e1e1e" stroke-width="0.3" font-family="Liberation Serif, serif" font-weight="normal" font-size="16.8" textLength="9.42" lengthAdjust="spacingAndGlyphs" fill="#1e1e1e">6</text>
<text x="273.33" y="503.0" stroke="#1e1e1e" stroke-width="0.3" font-family="Liberation Serif, serif" font-weight="normal" font-size="16.8" textLength="17.41" lengthAdjust="spacingAndGlyphs" fill="#1e1e1e">12</text>
<text x="337.42" y="503.0" stroke="#1e1e1e" stroke-width="0.3" font-family="Liberation Serif, serif" font-weight="normal" font-size="16.8" textLength="17.59" lengthAdjust="spacingAndGlyphs" fill="#1e1e1e">18</text>
<text x="392.49" y="503.0" stroke="#1e1e1e" stroke-width="0.3" font-family="Liberation Serif, serif" font-weight="normal" font-size="16.8" textLength="17.87" lengthAdjust="spacingAndGlyphs" fill="#1e1e1e">24</text>
<text x="457.15" y="504.1" stroke="#1e1e1e" stroke-width="0.3" font-family="Liberation Serif, serif" font-weight="normal" font-size="16.8" textLength="9.42" lengthAdjust="spacingAndGlyphs" fill="#1e1e1e">6</text>
<text x="513.3" y="504.1" stroke="#1e1e1e" stroke-width="0.3" font-family="Liberation Serif, serif" font-weight="normal" font-size="16.8" textLength="17.76" lengthAdjust="spacingAndGlyphs" fill="#1e1e1e">12</text>
<text x="577.39" y="504.1" stroke="#1e1e1e" stroke-width="0.3" font-family="Liberation Serif, serif" font-weight="normal" font-size="16.8" textLength="17.93" lengthAdjust="spacingAndGlyphs" fill="#1e1e1e">18</text>
<text x="632.8" y="504.1" stroke="#1e1e1e" stroke-width="0.3" font-family="Liberation Serif, serif" font-weight="normal" font-size="16.8" textLength="17.55" lengthAdjust="spacingAndGlyphs" fill="#1e1e1e">24</text>
<text x="335.46" y="527.0" stroke="#1e1e1e" stroke-width="0.3" font-family="Liberation Serif, serif" font-weight="normal" font-size="15.4" textLength="137.14" lengthAdjust="spacingAndGlyphs" fill="#1e1e1e">Time of day (hours)</text>
</g>
</svg>
</body></html>
